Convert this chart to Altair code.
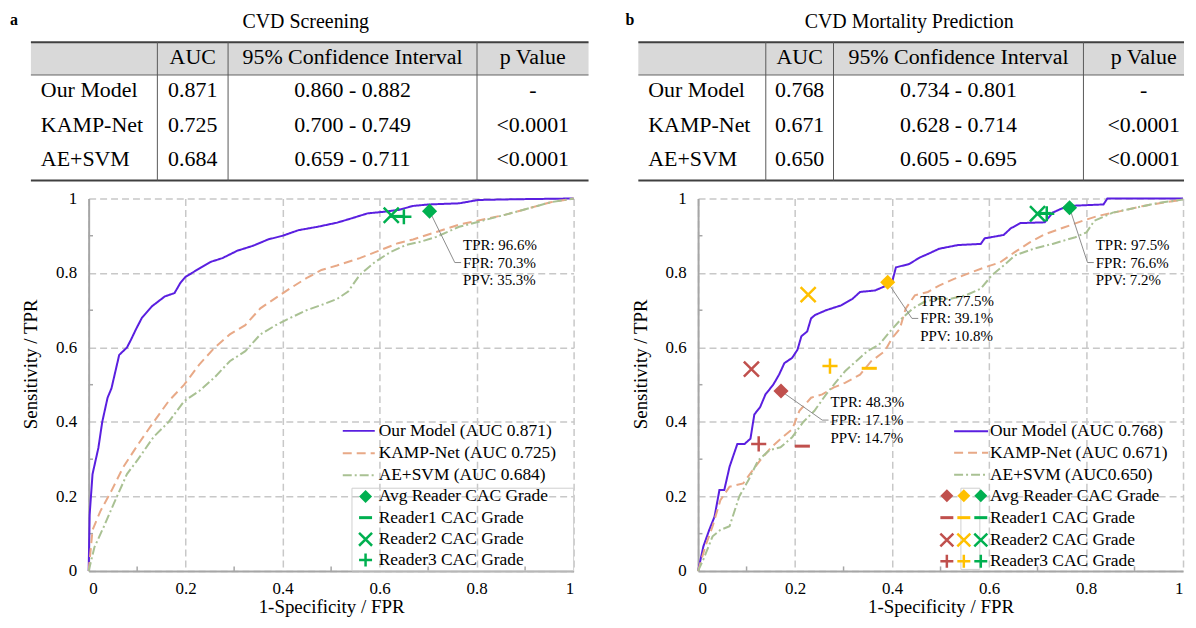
import altair as alt
import pandas as pd

FONT = "Liberation Serif"
W, H = 487, 374

# ------------------------------------------------------------------ data
models = ["Our Model", "KAMP-Net", "AE+SVM"]
header = ["AUC", "95% Confidence Interval", "p Value"]

a_title, a_letter = "CVD Screening", "a"
a_auc = ["0.871", "0.725", "0.684"]
a_ci = ["0.860 - 0.882", "0.700 - 0.749", "0.659 - 0.711"]
a_p = ["-", "<0.0001", "<0.0001"]
a_legend = ["Our Model (AUC 0.871)", "KAMP-Net (AUC 0.725)", "AE+SVM (AUC 0.684)"]

b_title, b_letter = "CVD Mortality Prediction", "b"
b_auc = ["0.768", "0.671", "0.650"]
b_ci = ["0.734 - 0.801", "0.628 - 0.714", "0.605 - 0.695"]
b_p = ["-", "<0.0001", "<0.0001"]
b_legend = ["Our Model (AUC 0.768)", "KAMP-Net (AUC 0.671)", "AE+SVM (AUC0.650)"]

reader_labels = ["Avg Reader CAC Grade", "Reader1 CAC Grade", "Reader2 CAC Grade", "Reader3 CAC Grade"]

# panel a curves
a_our_fpr = [0, 0.002, 0.008, 0.02, 0.028, 0.039, 0.047, 0.055, 0.063, 0.079, 0.087, 0.098, 0.11, 0.13,
             0.157, 0.177, 0.189, 0.20, 0.213, 0.232, 0.252, 0.276, 0.307, 0.339, 0.37, 0.40, 0.433,
             0.472, 0.512, 0.543, 0.575, 0.606, 0.638, 0.669, 0.701, 0.764, 0.803, 0.882, 1.0]
a_our_tpr = [0, 0.15, 0.26, 0.33, 0.40, 0.465, 0.49, 0.535, 0.58, 0.60, 0.62, 0.65, 0.68, 0.71,
             0.737, 0.746, 0.773, 0.79, 0.80, 0.815, 0.83, 0.84, 0.86, 0.873, 0.89, 0.90, 0.915,
             0.924, 0.935, 0.947, 0.96, 0.964, 0.969, 0.98, 0.984, 0.987, 0.996, 0.998, 1.0]
a_kamp_fpr = [0, 0.008, 0.024, 0.047, 0.071, 0.102, 0.134, 0.165, 0.197, 0.228, 0.26, 0.291, 0.323,
              0.354, 0.386, 0.417, 0.449, 0.48, 0.512, 0.559, 0.591, 0.638, 0.669, 0.717, 0.764,
              0.811, 0.858, 0.906, 0.953, 1.0]
a_kamp_tpr = [0, 0.11, 0.16, 0.215, 0.278, 0.34, 0.40, 0.456, 0.50, 0.554, 0.60, 0.635, 0.66,
              0.705, 0.733, 0.76, 0.786, 0.808, 0.82, 0.84, 0.856, 0.88, 0.89, 0.91, 0.93,
              0.943, 0.956, 0.973, 0.99, 1.0]
a_svm_fpr = [0, 0.012, 0.031, 0.055, 0.079, 0.102, 0.134, 0.165, 0.197, 0.228, 0.26, 0.291, 0.323,
             0.354, 0.386, 0.417, 0.449, 0.48, 0.512, 0.535, 0.559, 0.591, 0.622, 0.654, 0.685,
             0.717, 0.764, 0.811, 0.858, 0.906, 0.953, 1.0]
a_svm_tpr = [0, 0.064, 0.118, 0.19, 0.26, 0.30, 0.36, 0.40, 0.456, 0.483, 0.52, 0.563, 0.59,
             0.635, 0.66, 0.68, 0.70, 0.714, 0.73, 0.75, 0.795, 0.83, 0.856, 0.875, 0.884,
             0.897, 0.924, 0.94, 0.956, 0.973, 0.99, 1.0]

# panel b curves
b_our_fpr = [0, 0.011, 0.023, 0.034, 0.044, 0.054, 0.065, 0.081, 0.096, 0.108, 0.116, 0.128, 0.139,
             0.155, 0.167, 0.178, 0.194, 0.205, 0.213, 0.225, 0.233, 0.241, 0.264, 0.295, 0.318,
             0.334, 0.365, 0.388, 0.40, 0.408, 0.435, 0.458, 0.474, 0.497, 0.536, 0.583, 0.591,
             0.630, 0.645, 0.665, 0.715, 0.731, 0.762, 0.781, 0.836, 0.844, 1.0]
b_our_tpr = [0, 0.066, 0.11, 0.146, 0.217, 0.217, 0.28, 0.341, 0.341, 0.355, 0.42, 0.44, 0.474,
             0.50, 0.527, 0.558, 0.572, 0.594, 0.63, 0.643, 0.678, 0.687, 0.70, 0.713, 0.73,
             0.749, 0.753, 0.766, 0.775, 0.815, 0.824, 0.842, 0.851, 0.865, 0.875, 0.878, 0.893,
             0.902, 0.92, 0.934, 0.936, 0.962, 0.98, 0.981, 0.984, 1.0, 1.0]
b_kamp_fpr = [0, 0.015, 0.03, 0.046, 0.065, 0.093, 0.108, 0.128, 0.151, 0.174, 0.194, 0.209, 0.233,
              0.256, 0.279, 0.303, 0.334, 0.357, 0.385, 0.40, 0.416, 0.428, 0.447, 0.474, 0.497,
              0.528, 0.56, 0.591, 0.622, 0.653, 0.684, 0.715, 0.754, 0.793, 0.824, 0.871, 0.918,
              0.964, 1.0]
b_kamp_tpr = [0, 0.066, 0.12, 0.19, 0.226, 0.235, 0.262, 0.297, 0.332, 0.359, 0.38, 0.43, 0.465,
              0.474, 0.492, 0.505, 0.527, 0.563, 0.59, 0.625, 0.65, 0.704, 0.74, 0.749, 0.766,
              0.784, 0.80, 0.815, 0.828, 0.856, 0.882, 0.904, 0.922, 0.94, 0.953, 0.966, 0.98,
              0.99, 0.997]
b_svm_fpr = [0, 0.011, 0.03, 0.046, 0.065, 0.085, 0.104, 0.124, 0.147, 0.17, 0.194, 0.217, 0.24,
             0.264, 0.283, 0.303, 0.326, 0.349, 0.373, 0.396, 0.42, 0.443, 0.466, 0.49, 0.521,
             0.552, 0.583, 0.606, 0.63, 0.653, 0.692, 0.731, 0.778, 0.801, 0.817, 0.855, 0.902,
             0.949, 1.0]
b_svm_tpr = [0, 0.031, 0.093, 0.11, 0.12, 0.20, 0.244, 0.297, 0.324, 0.332, 0.359, 0.40, 0.43,
             0.474, 0.505, 0.536, 0.563, 0.59, 0.607, 0.643, 0.678, 0.705, 0.722, 0.731, 0.731,
             0.74, 0.758, 0.794, 0.82, 0.847, 0.865, 0.878, 0.896, 0.909, 0.94, 0.962, 0.975,
             0.988, 0.997]

# reader operating points: [avg, reader1, reader2, reader3] per colour group
a_reader_colors = ["#00B050"]
a_reader_fpr = [[0.703, 0.636, 0.624, 0.650]]
a_reader_tpr = [[0.966, 0.952, 0.955, 0.951]]
a_ppv = ["35.3%"]

b_reader_colors = ["#C0504D", "#FFC000", "#00B050"]
b_reader_fpr = [[0.171, 0.215, 0.110, 0.125], [0.391, 0.353, 0.227, 0.272], [0.766, 0.712, 0.700, 0.719]]
b_reader_tpr = [[0.483, 0.335, 0.542, 0.341], [0.775, 0.544, 0.742, 0.550], [0.975, 0.960, 0.959, 0.959]]
b_ppv = ["14.7%", "10.8%", "7.2%"]

minor_ticks = [0.1, 0.3, 0.5, 0.7, 0.9]

# ------------------------------------------------------------------ styles / layout
STYLES = [
    dict(color="#5A1FE0", dash=[1, 0], width=2),
    dict(color="#E8A987", dash=[9, 5], width=2),
    dict(color="#A9C193", dash=[9, 3, 2, 3], width=2),
]
GRID = "#C8C8C8"
AXISC = "#A6A6A6"
SHAPES = ["diamond", "M-1,0L1,0", "M-1,-1L1,1M-1,1L1,-1", "M-1,0L1,0M0,-1L0,1"]

x_axis = alt.Axis(values=[0, 0.2, 0.4, 0.6, 0.8, 1], format="~g", title="1-Specificity / FPR",
                  grid=True, gridDash=[7, 4], gridColor=GRID, gridWidth=1.5,
                  domainColor=AXISC, domainWidth=2, ticks=False,
                  labelFont=FONT, labelFontSize=17, labelColor="black", labelPadding=10,
                  titleFont=FONT, titleFontSize=19, titleFontWeight="normal", titleColor="black",
                  titlePadding=1)
y_axis = alt.Axis(values=[0, 0.2, 0.4, 0.6, 0.8, 1], format="~g", title="Sensitivity / TPR",
                  grid=True, gridDash=[7, 4], gridColor=GRID, gridWidth=1.5,
                  domainColor=AXISC, domainWidth=2, ticks=False,
                  labelFont=FONT, labelFontSize=17, labelColor="black", labelPadding=12,
                  titleFont=FONT, titleFontSize=19, titleFontWeight="normal", titleColor="black",
                  titlePadding=15, titleY=166)


def X(f="fpr"):
    return alt.X(f"{f}:Q", scale=alt.Scale(domain=[0, 1], nice=False, zero=False), axis=x_axis)


def Y(f="tpr"):
    return alt.Y(f"{f}:Q", scale=alt.Scale(domain=[0, 1], nice=False, zero=False), axis=y_axis)


def roc_group(curves, legend_labels, r_colors, r_fpr, r_tpr, ppv, lay):
    layers = []
    # minor ticks
    mt = pd.DataFrame({"v": minor_ticks})
    layers.append(alt.Chart(mt).mark_rule(color=AXISC, strokeWidth=1.5).encode(
        x=alt.X("v:Q", scale=alt.Scale(domain=[0, 1], nice=False), axis=x_axis),
        y=alt.datum(0), y2=alt.datum(0.012)))
    layers.append(alt.Chart(mt).mark_rule(color=AXISC, strokeWidth=1.5).encode(
        y=alt.Y("v:Q", scale=alt.Scale(domain=[0, 1], nice=False), axis=y_axis),
        x=alt.datum(0), x2=alt.datum(0.009)))
    # legend box
    bx = lay["box"]
    layers.append(alt.Chart(pd.DataFrame({"fpr": [bx[0]], "fpr2": [bx[1]], "tpr": [bx[2]], "tpr2": [bx[3]]}))
                  .mark_rect(fill="transparent", stroke="#D0D0D0", strokeWidth=1)
                  .encode(x=X(), x2="fpr2:Q", y=Y(), y2="tpr2:Q"))
    # curves + legend line samples
    for (fx, fy), st, lab, ly in zip(curves, STYLES, legend_labels, lay["line_rows"]):
        df = pd.DataFrame({"fpr": fx, "tpr": fy, "i": range(len(fx))})
        layers.append(alt.Chart(df).mark_line(color=st["color"], strokeDash=st["dash"],
                                              strokeWidth=st["width"]).encode(x=X(), y=Y(), order="i:Q"))
        ld = pd.DataFrame({"fpr": [lay["line_x"][0]], "fpr2": [lay["line_x"][1]], "tpr": [ly], "label": [lab]})
        layers.append(alt.Chart(ld).mark_rule(color=st["color"], strokeDash=st["dash"],
                                              strokeWidth=st["width"]).encode(x=X(), x2="fpr2:Q", y=Y()))
    # legend texts
    lt = pd.DataFrame({"fpr": [lay["text_x"]] * 7,
                       "tpr": list(lay["line_rows"]) + list(lay["marker_rows"]),
                       "label": list(legend_labels) + reader_labels})
    layers.append(alt.Chart(lt).mark_text(font=FONT, fontSize=17.5, align="left", baseline="middle",
                                          color="black").encode(x=X(), y=Y(), text="label:N"))
    # annotation leader lines + text
    rows_l, rows_t = [], []
    for g, (col, fx, fy, pv, an) in enumerate(zip(r_colors, r_fpr, r_tpr, ppv, lay["annot"])):
        tx, my = an
        pts = [(fx[0], fy[0]), (tx - 0.017, my), (tx - 0.004, my)]
        for k, (px, py) in enumerate(pts):
            rows_l.append({"g": g, "k": k, "fpr": px, "tpr": py})
        lines = [f"TPR: {round(fy[0] * 100, 1)}%", f"FPR: {round(fx[0] * 100, 1)}%", f"PPV: {pv}"]
        for j, t in enumerate(lines):
            rows_t.append({"fpr": tx, "tpr": my + 0.048 * (1 - j), "t": t})
    layers.append(alt.Chart(pd.DataFrame(rows_l)).mark_line(color="#8C8C8C", strokeWidth=1).encode(
        x=X(), y=Y(), detail="g:N", order="k:Q"))
    layers.append(alt.Chart(pd.DataFrame(rows_t)).mark_text(font=FONT, fontSize=15, align="left",
                                                            baseline="middle", color="black").encode(
        x=X(), y=Y(), text="t:N"))
    # reader markers (plot + legend)
    for s, shape in enumerate(SHAPES):
        rows = []
        for g, col in enumerate(r_colors):
            rows.append({"fpr": r_fpr[g][s], "tpr": r_tpr[g][s], "c": col, "sz": 1})
            rows.append({"fpr": lay["marker_x"][g], "tpr": lay["marker_rows"][s], "c": col, "sz": 0})
        df = pd.DataFrame(rows)
        filled = shape == "diamond"
        big = 230 if filled else 200
        small = 170 if filled else 140
        mk = alt.Chart(df).mark_point(shape=shape, filled=filled, opacity=1,
                                      strokeWidth=(2.5 if s != 1 else 3))
        layers.append(mk.encode(x=X(), y=Y(), color=alt.Color("c:N", scale=None),
                                size=alt.Size("sz:Q", scale=alt.Scale(domain=[0, 1], range=[small, big]),
                                              legend=None)))
    return alt.layer(*layers)


def table_group(left_rel, edges, right_draw, title_x, letter_x, title, letter, auc, ci, p, anchor=False):
    TX = alt.X("tx:Q", scale=alt.Scale(domain=[0, 1000], range=[left_rel, left_rel + 1000], nice=False,
                                       zero=False), axis=None)
    TY = alt.Y("ty:Q", scale=alt.Scale(domain=[0, 1000], range=[-157, 843], nice=False, zero=False),
               axis=None)
    hdr_h, bottom = 33, 139
    row_y = [14.5, 48.5, 83.5, 117.5]
    layers = []
    if anchor:
        # invisible element fixing the top-left corner of the page layout (page y = 8)
        layers.append(alt.Chart(pd.DataFrame({"tx": [-22], "tx2": [-21], "ty": [-32], "ty2": [-31]}))
                      .mark_rect(fill="transparent").encode(x=TX, x2="tx2:Q", y=TY, y2="ty2:Q"))
    layers.append(alt.Chart(pd.DataFrame({"tx": [0], "tx2": [right_draw], "ty": [0], "ty2": [hdr_h]}))
                  .mark_rect(fill="#D9D9D9").encode(x=TX, x2="tx2:Q", y=TY, y2="ty2:Q"))
    hl = pd.DataFrame({"tx": [0, 0, 0], "tx2": [right_draw] * 3, "ty": [0, hdr_h, bottom], "w": [2, 0.8, 2]})
    layers.append(alt.Chart(hl).mark_rule(color="#404040").encode(
        x=TX, x2="tx2:Q", y=TY, strokeWidth=alt.StrokeWidth("w:Q", scale=None)))
    vl = pd.DataFrame({"tx": edges[1:4], "ty": [0] * 3, "ty2": [bottom] * 3})
    layers.append(alt.Chart(vl).mark_rule(color="#595959", strokeWidth=1).encode(x=TX, y=TY, y2="ty2:Q"))
    cells = []
    centers = [(edges[1] + edges[2]) / 2, (edges[2] + edges[3]) / 2, (edges[3] + edges[4]) / 2]
    for h, cx in zip(header, centers):
        cells.append({"tx": cx, "ty": row_y[0], "t": h})
    for r, m in enumerate(models):
        for val, cx in zip([auc[r], ci[r], p[r]], centers):
            cells.append({"tx": cx, "ty": row_y[r + 1], "t": val})
    layers.append(alt.Chart(pd.DataFrame(cells)).mark_text(font=FONT, fontSize=22, align="center",
                                                           baseline="middle", color="black").encode(
        x=TX, y=TY, text="t:N"))
    names = pd.DataFrame({"tx": [10] * 3, "ty": row_y[1:], "t": models})
    layers.append(alt.Chart(names).mark_text(font=FONT, fontSize=22, align="left", baseline="middle",
                                             color="black").encode(x=TX, y=TY, text="t:N"))
    layers.append(alt.Chart(pd.DataFrame({"tx": [title_x], "ty": [-14], "t": [title]})).mark_text(
        font=FONT, fontSize=20, align="center", baseline="alphabetic", color="black").encode(
        x=TX, y=TY, text="t:N"))
    layers.append(alt.Chart(pd.DataFrame({"tx": [letter_x], "ty": [-17.5], "t": [letter]})).mark_text(
        font=FONT, fontSize=16, fontWeight="bold", align="left", baseline="alphabetic",
        color="black").encode(x=TX, y=TY, text="t:N"))
    return alt.layer(*layers)


lay_a = dict(line_rows=[0.376, 0.316, 0.257], marker_rows=[0.2, 0.143, 0.085, 0.029],
             line_x=[0.524, 0.590], text_x=0.598, marker_x=[0.571],
             box=[0.543, 1.0, 0.0, 0.222], annot=[(0.772, 0.828)])
lay_b = dict(line_rows=[0.375, 0.317, 0.258], marker_rows=[0.202, 0.143, 0.083, 0.026],
             line_x=[0.528, 0.598], text_x=0.602, marker_x=[0.513, 0.548, 0.583],
             box=[0.542, 0.581, 0.004, 0.222],
             annot=[(0.273, 0.405), (0.458, 0.678), (0.82, 0.828)])

panel_a = alt.layer(
    roc_group([(a_our_fpr, a_our_tpr), (a_kamp_fpr, a_kamp_tpr), (a_svm_fpr, a_svm_tpr)],
              a_legend, a_reader_colors, a_reader_fpr, a_reader_tpr, a_ppv, lay_a),
    table_group(-58, [0, 127, 198, 448, 560], 560, 276, -21, a_title, a_letter, a_auc, a_ci, a_p,
                anchor=True),
).resolve_scale(x="independent", y="independent").properties(width=W, height=H)

panel_b = alt.layer(
    roc_group([(b_our_fpr, b_our_tpr), (b_kamp_fpr, b_kamp_tpr), (b_svm_fpr, b_svm_tpr)],
              b_legend, b_reader_colors, b_reader_fpr, b_reader_tpr, b_ppv, lay_b),
    table_group(-60, [0, 128, 196, 447, 568], 548, 272, -13, b_title, b_letter, b_auc, b_ci, b_p),
).resolve_scale(x="independent", y="independent").properties(width=W, height=H)

chart = alt.hconcat(panel_a, panel_b, spacing=125, bounds="flush").properties(
    padding=0, background="white"
).configure_view(stroke="transparent")

chart.save("out.html", embed_options={"renderer": "svg", "actions": False})
